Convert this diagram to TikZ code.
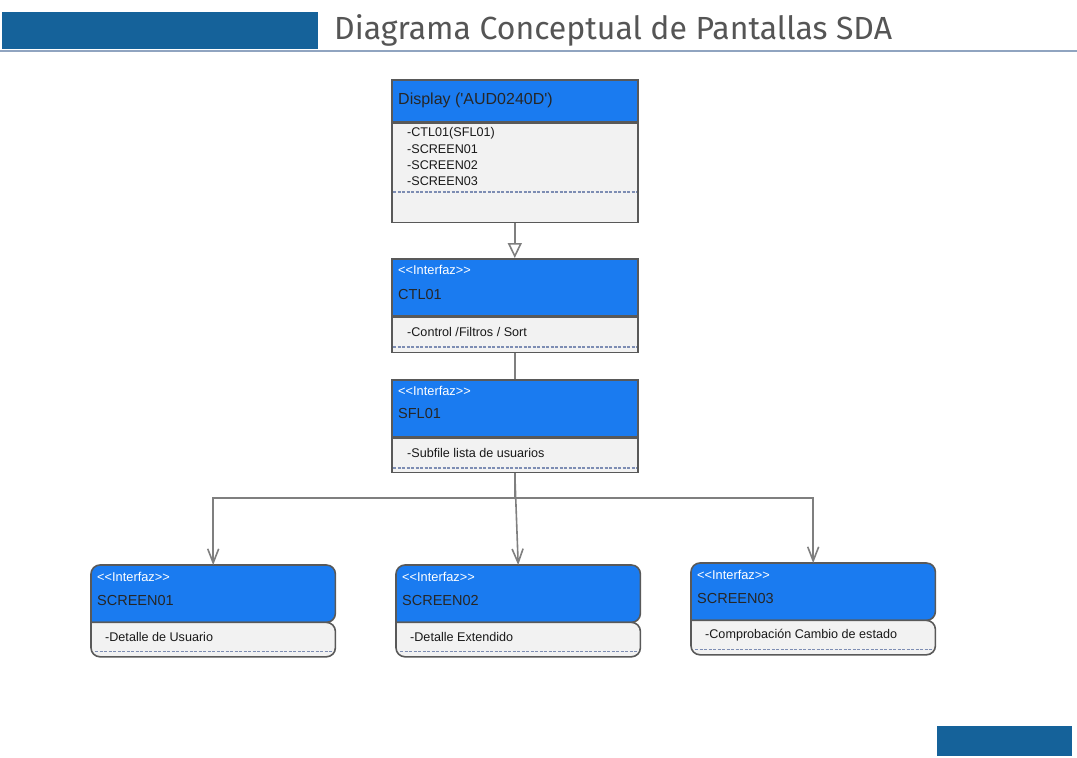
\documentclass[tikz,border=0pt]{standalone}
\usepackage{fontspec}
\setmainfont{Liberation Sans}
\newfontfamily\titlefont{Fira Sans}
\usetikzlibrary{calc,arrows.meta,positioning}

\definecolor{barblue}{HTML}{15629A}
\definecolor{hdrblue}{HTML}{1A7BF0}
\definecolor{bodygray}{HTML}{F2F2F2}
\definecolor{bordgray}{HTML}{595959}
\definecolor{linkgray}{HTML}{7F7F7F}
\definecolor{dashblue}{HTML}{7D8DB3}
\definecolor{rulegray}{HTML}{90A4C0}
\definecolor{titlegray}{HTML}{555555}

\tikzset{
  header/.style={draw=bordgray, line width=1.6pt, fill=hdrblue, minimum width=246pt, inner sep=0pt},
  bodybox/.style={draw=bordgray, line width=1.6pt, fill=bodygray, minimum width=246pt, inner sep=0pt},
  ghost/.style={minimum width=244pt, inner sep=0pt},
  scrhead/.style={draw=bordgray, line width=1.6pt, fill=hdrblue},
  scrbody/.style={draw=bordgray, line width=1.6pt, fill=bodygray},
  stereo/.style={anchor=west, inner sep=0pt, text=white, font=\fontsize{12.8}{14}\selectfont},
  boxname/.style={anchor=west, inner sep=0pt, text=black!85, font=\fontsize{14.5}{16}\selectfont},
  item/.style={anchor=west, inner sep=0pt, text=black!90, font=\fontsize{12.6}{14}\selectfont},
  sepline/.style={dashblue, line width=1.8pt, dash pattern=on 3pt off 1.5pt},
  link/.style={linkgray, line width=1.6pt},
  openarrow/.style={-{Triangle[open, length=15pt, width=14pt, fill=white]}},
  barbarrow/.style={-{Straight Barb[length=14pt, width=11pt]}}
}

\begin{document}
\begin{tikzpicture}[x=1pt, y=-1pt]
    \useasboundingbox (0,0) rectangle (1077,758);

    % Title bar
    \fill[barblue] (2,12) rectangle (318,49);
    \draw[rulegray, line width=2pt] (0,50.5) -- (1077,50.5);
    \node[anchor=west, inner sep=0pt, text=titlegray, font=\titlefont\fontsize{32}{36}\selectfont] (title) at (334,30) {Diagrama Conceptual de Pantallas SDA};
    \fill[barblue] (937,726) rectangle (1072,756);

    % Display box
    \node[header, anchor=north west, minimum height=42pt] (dsphead) at (391,79) {};
    \node[bodybox, below=0pt of dsphead, minimum height=99pt] (dspbody) {};
    \node[boxname, font=\fontsize{16}{18}\selectfont] (dspname) at ($(dsphead.west)+(7,0)$) {Display (\textquotesingle AUD0240D\textquotesingle)};
    \node[item] (dspa) at ($(dspbody.north west)+(16,11)$) {-CTL01(SFL01)};
    \node[item] (dspb) at ($(dspbody.north west)+(16,27)$) {-SCREEN01};
    \node[item] (dspc) at ($(dspbody.north west)+(16,43)$) {-SCREEN02};
    \node[item] (dspd) at ($(dspbody.north west)+(16,59)$) {-SCREEN03};
    \draw[sepline] ($(dspbody.north west)+(2,69)$) -- ($(dspbody.north east)+(-2,69)$);

    % CTL01 box
    \node[header, anchor=north west, minimum height=57pt] (ctlhead) at (391,258) {};
    \node[bodybox, below=0pt of ctlhead, minimum height=35pt] (ctlbody) {};
    \node[stereo] (ctlstereo) at ($(ctlhead.north west)+(7,12)$) {<\kern0pt<Interfaz>\kern0pt>};
    \node[boxname] (ctlname) at ($(ctlhead.north west)+(7,37)$) {CTL01};
    \node[item] (ctlitem) at ($(ctlbody.north west)+(16,15)$) {-Control /Filtros / Sort};
    \draw[sepline] ($(ctlbody.north west)+(2,30)$) -- ($(ctlbody.north east)+(-2,30)$);

    % SFL01 box
    \node[header, anchor=north west, minimum height=57pt] (sflhead) at (391,379) {};
    \node[bodybox, below=0pt of sflhead, minimum height=34pt] (sflbody) {};
    \node[stereo] (sflstereo) at ($(sflhead.north west)+(7,12)$) {<\kern0pt<Interfaz>\kern0pt>};
    \node[boxname] (sflname) at ($(sflhead.north west)+(7,35)$) {SFL01};
    \node[item] (sflitem) at ($(sflbody.north west)+(16,15)$) {-Subfile lista de usuarios};
    \draw[sepline] ($(sflbody.north west)+(2,30)$) -- ($(sflbody.north east)+(-2,30)$);

    % Screen boxes
    \node[ghost, anchor=north west, minimum height=57pt] (s1head) at (91,565) {};
    \node[ghost, below=0pt of s1head, minimum height=34pt] (s1body) {};
    \node[ghost, anchor=north west, minimum height=57pt] (s2head) at (396,565) {};
    \node[ghost, below=0pt of s2head, minimum height=34pt] (s2body) {};
    \node[ghost, anchor=north west, minimum height=57pt] (s3head) at (691,563) {};
    \node[ghost, below=0pt of s3head, minimum height=34pt] (s3body) {};

    \filldraw[scrhead] (s1head.south west) [rounded corners=9pt] -- (s1head.north west) -- (s1head.north east) -- (s1head.south east) [sharp corners] -- cycle;
    \filldraw[scrbody] (s1body.north west) [rounded corners=9pt] -- (s1body.north east) -- (s1body.south east) -- (s1body.south west) [sharp corners] -- cycle;
    \filldraw[scrhead] (s2head.south west) [rounded corners=9pt] -- (s2head.north west) -- (s2head.north east) -- (s2head.south east) [sharp corners] -- cycle;
    \filldraw[scrbody] (s2body.north west) [rounded corners=9pt] -- (s2body.north east) -- (s2body.south east) -- (s2body.south west) [sharp corners] -- cycle;
    \filldraw[scrhead] (s3head.south west) [rounded corners=9pt] -- (s3head.north west) -- (s3head.north east) -- (s3head.south east) [sharp corners] -- cycle;
    \filldraw[scrbody] (s3body.north west) [rounded corners=9pt] -- (s3body.north east) -- (s3body.south east) -- (s3body.south west) [sharp corners] -- cycle;

    \node[stereo] (s1stereo) at ($(s1head.north west)+(6,12)$) {<\kern0pt<Interfaz>\kern0pt>};
    \node[boxname] (s1name) at ($(s1head.north west)+(6,36)$) {SCREEN01};
    \node[item] (s1item) at ($(s1body.north west)+(14,15)$) {-Detalle de Usuario};
    \draw[sepline] ($(s1body.north west)+(4,29)$) -- ($(s1body.north east)+(-2,29)$);

    \node[stereo] (s2stereo) at ($(s2head.north west)+(6,12)$) {<\kern0pt<Interfaz>\kern0pt>};
    \node[boxname] (s2name) at ($(s2head.north west)+(6,36)$) {SCREEN02};
    \node[item] (s2item) at ($(s2body.north west)+(14,15)$) {-Detalle Extendido};
    \draw[sepline] ($(s2body.north west)+(4,29)$) -- ($(s2body.north east)+(-2,29)$);

    \node[stereo] (s3stereo) at ($(s3head.north west)+(6,12)$) {<\kern0pt<Interfaz>\kern0pt>};
    \node[boxname] (s3name) at ($(s3head.north west)+(6,36)$) {SCREEN03};
    \node[item] (s3item) at ($(s3body.north west)+(14,15)$) {-Comprobación Cambio de estado};
    \draw[sepline] ($(s3body.north west)+(4,29)$) -- ($(s3body.north east)+(-2,29)$);

    % Connectors
    \draw[link, openarrow] (dspbody.south) -- (ctlhead.north);
    \draw[link] (ctlbody.south) -- (sflhead.north);
    \coordinate (fork) at ($(sflbody.south)+(0,25)$);
    \draw[link] (sflbody.south) -- (fork);
    \draw[link, barbarrow] (fork) -| (s1head.north);
    \draw[link, barbarrow] (fork) -| (s3head.north);
    \draw[link, barbarrow] (sflbody.south) -- (s2head.north);
\end{tikzpicture}
\end{document}
